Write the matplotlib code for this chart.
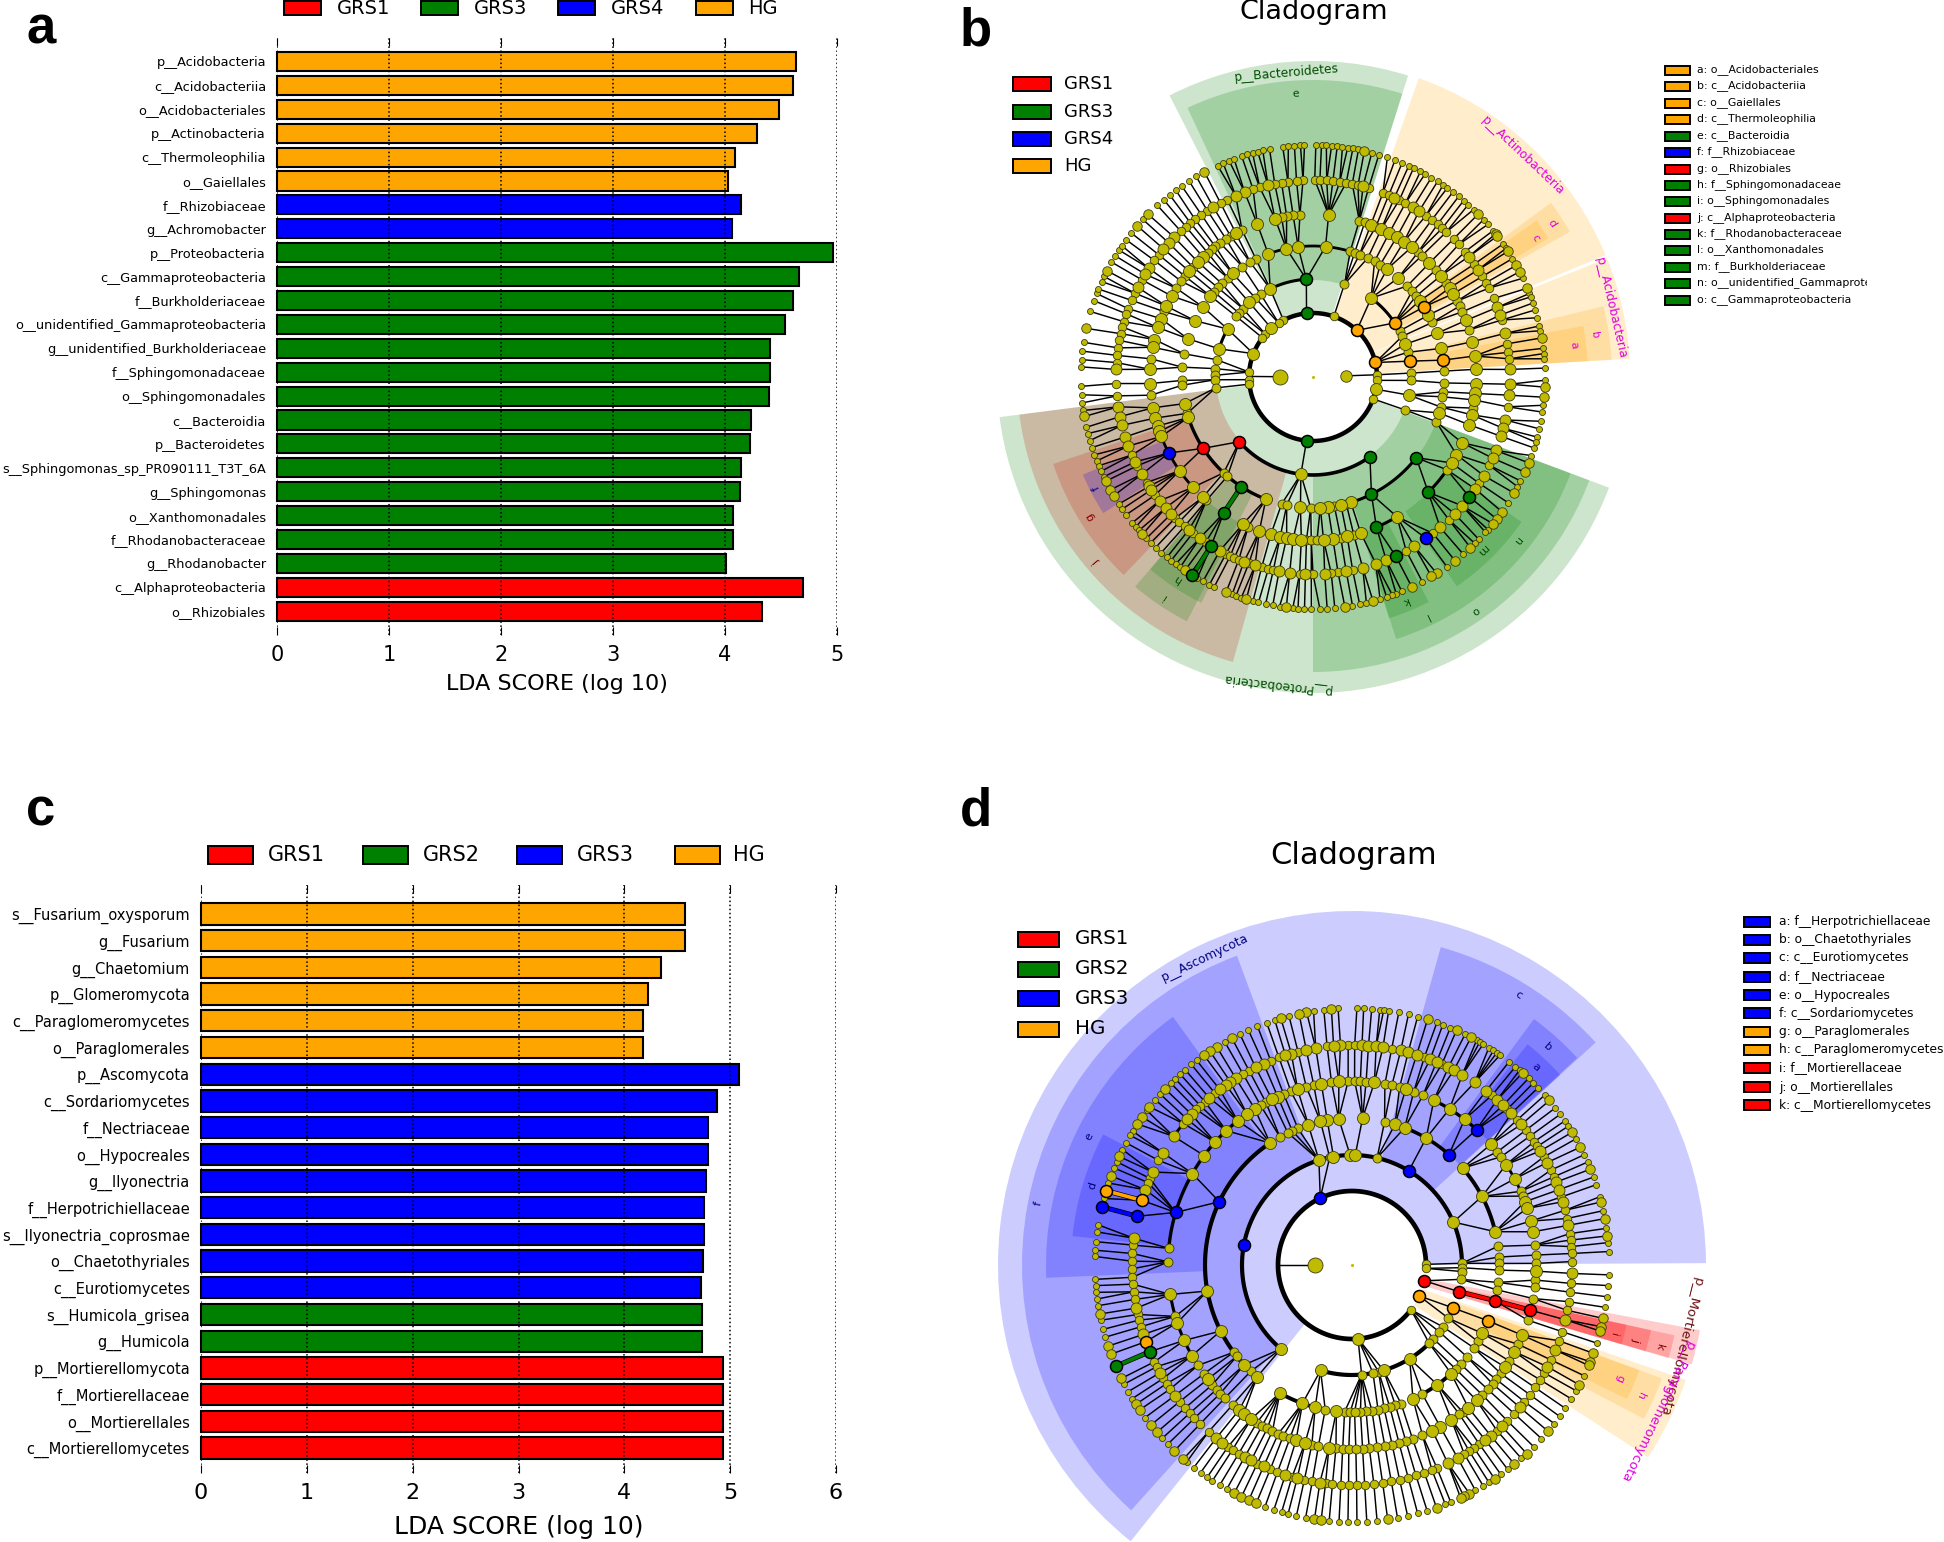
import numpy as np
import matplotlib
matplotlib.use("Agg")
import matplotlib.pyplot as plt
from matplotlib.patches import Rectangle, Wedge
from matplotlib.transforms import Bbox

W, H = 1944, 1542
COL = dict(R="#ff0000", G="#008000", B="#0000ff", O="#ffa500", r="#c80f00")
NODE = "#c0bb00"

# ---------- panel a ----------
A_LABELS = ["p__Acidobacteria","c__Acidobacteriia","o__Acidobacteriales","p__Actinobacteria","c__Thermoleophilia","o__Gaiellales",
 "f__Rhizobiaceae","g__Achromobacter","p__Proteobacteria","c__Gammaproteobacteria","f__Burkholderiaceae",
 "o__unidentified_Gammaproteobacteria","g__unidentified_Burkholderiaceae","f__Sphingomonadaceae","o__Sphingomonadales",
 "c__Bacteroidia","p__Bacteroidetes","s__Sphingomonas_sp_PR090111_T3T_6A","g__Sphingomonas","o__Xanthomonadales",
 "f__Rhodanobacteraceae","g__Rhodanobacter","c__Alphaproteobacteria","o__Rhizobiales"]
A_VALUES = [4.63,4.61,4.48,4.29,4.09,4.03,4.14,4.06,4.96,4.66,4.61,4.54,4.40,4.40,4.39,4.23,4.22,4.14,4.13,4.07,4.07,4.01,4.70,4.33]
A_GROUPS = list("OOOOOOBBGGGGGGGGGGGGGGRR")
A_LEGEND = [("GRS1","R"),("GRS3","G"),("GRS4","B"),("HG","O")]

# ---------- panel c ----------
C_LABELS = ["s__Fusarium_oxysporum","g__Fusarium","g__Chaetomium","p__Glomeromycota","c__Paraglomeromycetes","o__Paraglomerales",
 "p__Ascomycota","c__Sordariomycetes","f__Nectriaceae","o__Hypocreales","g__Ilyonectria","f__Herpotrichiellaceae",
 "s__Ilyonectria_coprosmae","o__Chaetothyriales","c__Eurotiomycetes","s__Humicola_grisea","g__Humicola",
 "p__Mortierellomycota","f__Mortierellaceae","o__Mortierellales","c__Mortierellomycetes"]
C_VALUES = [4.57,4.57,4.35,4.22,4.18,4.18,5.08,4.88,4.79,4.79,4.77,4.75,4.75,4.74,4.72,4.73,4.73,4.93,4.93,4.93,4.93]
C_GROUPS = list("OOOOOOBBBBBBBBBGGRRRR")
C_LEGEND = [("GRS1","R"),("GRS2","G"),("GRS3","B"),("HG","O")]

# ---------- panel b cladogram ----------
B_RADII = [33,64,98,131,163,197,232]
B_R0 = [2]
B_R0_BIG = [179.5]
B_R1 = [71,2,357,340,117.5,122.5,138,142.2,175.6,182.4,186.4]
B_R1_BIG = [349,130.5,158.6]
B_R2 = [71.3,28,24.5,14.6,2.3,122.3,126.1,135.7,139.2,141.7,169.8,175.1,179,181.6,186.4,358,340.3]
B_R2_BIG = [53.6,19.6,115.9,130.5,150.7,163.3,349.3,262.9]
B_R3 = [73.5,71.5,69.2,65.3,62,59.1,44,40.9,38.1,24.6,2.6,115.8,118.7,122.6,130.7,134.3,136.8,139.3,169.8,175.7,181.5,183.6,196.1,227,229.2,256.1,258.4,269,346.8,340.1,284.7,279.4,357.4,353.5,351.3]
B_R3_BIG = [84.5,55.5,49.3,35.5,28.2,19.4,12.6,96.5,101.7,110,127.8,141.7,147.5,154.5,163,191.7,198,248.9,264.5,344.1,286.8,282.3,276.5,273.2]
B_R4 = [73.5,71.5,67.3,49.9,48.1,41.1,35.3,27.8,25.8,23.6,16.8,94.6,97,99.3,101.1,115.8,120.3,122.2,124.7,126.8,128.4,130.3,137.5,141.8,144,147,156.3,173.6,186.4,229.2,246.6,267.7,269.4,349,325.3,284.5,279.8,271.4]
B_R4_BIG = [84.5,69.2,65.2,62.1,59.1,56.1,52.8,44.4,38.4,33.1,30.7,20.3,12.5,7.4,2.7,103.5,110,118.2,132.5,135,139.5,150.2,154.2,159,162.3,166.7,169.5,177.3,182.3,190.9,194.6,197.5,199.5,201.4,215.1,222.6,227.5,244.5,250.8,255,258.4,260.7,263,265.9,357.7,354.2,351.9,346.6,343,336.2,331.6,328.2,301,287,282.1,277,273.7]
B_R5 = [89.5,88,86,84.2,82.2,80.3,78.5,76.8,73.6,69.2,67.4,64,62,55,52.9,50.8,49,47.4,44.5,42.3,39.5,35,30.7,28.6,26.8,23.5,16.8,9.7,7.2,5.3,92.9,94.8,97.3,99.2,101.2,105.7,107.7,115.8,118,122.4,124.5,126.8,128.5,130.2,132.2,141.6,143.7,150.4,154.8,157.1,159.7,161.3,163.7,165.3,167.3,169.3,171.5,173.7,175.8,181.9,185.5,203.3,206.8,212.4,216.8,225.7,227.3,229.3,232.4,237,243.8,245.2,246.5,247.9,251,254.9,256.9,258.4,266.1,269.5,351.3,333.4,327.4,313.6,307.5,298.2,281.6,277.3,275.3,270]
B_R5_BIG = [75.3,65.6,59.5,57.4,37.7,33,20.7,18.3,12.8,2.2,103.2,110.3,113.1,120.4,134.8,137.1,139.4,146.5,148.5,152.9,177.8,188.7,191.6,194.2,197.7,200.5,205.5,209.6,213.7,214.9,218.9,221.6,224,230.9,234.9,241.8,249.5,252.9,260.1,263.2,267.8,357.9,354.7,347.4,344.9,342.5,338.1,335.7,330,325.4,319.2,316,310.2,300.9,291.8,288.6,284.6,279.7,273.4]
B_R6 = [89.3,87.9,86.7,85.4,84,82.7,81.4,80.1,78.7,75.3,73.5,71.3,69.3,67.4,65.6,64.3,62.4,61.1,59.3,57.5,55.9,54.6,52.9,51.1,49.5,48,46.2,42.7,41.1,39.1,35,33.7,30.7,25.2,21.1,20.2,18.6,16.8,14.8,12.7,11.5,7.1,5.8,4.5,2.2,
 177.5,175.7,173.6,171.4,163.6,160.8,158.9,157.7,155.7,154.3,150.3,148.5,146.8,145.5,143.7,141.6,137.2,132.2,130.1,128.2,126.3,124.5,122.3,120.2,114.3,112.8,111.2,109.9,107.9,106.4,105.1,103.8,102.5,100.8,97.5,96.1,94.6,93.1,92.1,
 182.3,184.4,186.4,188.3,192.5,194.1,195.9,197.7,199.6,201.2,202.5,204,205.5,213.2,214.7,216.4,218.9,220.2,221.4,224.1,225.6,227.3,229.2,231,232.3,233.7,235.1,238,240.1,241.7,243.5,244.8,249.6,250.6,252,255,256.4,258.2,260,261.7,265,266.3,267.9,269.6,
 359.2,353,351.3,349,347.1,345,343.7,342.2,340.2,333.4,331.8,327.2,318.9,318,315.6,314.2,310.3,305.2,298.1,292.5,291,290,288.5,286.8,283.3,281.6,279.8,275.4,273.5,271.7]
B_R6_BIG = [77.2,44.6,38.1,37.4,32.8,28.8,27,22.5,9.7,167.9,152.7,139.3,135.4,117.9,189.8,206.7,209.1,210.8,222.7,236.5,248,253.3,263.4,357.5,355,338.3,335.8,330,324.5,322.3,320.8,312.7,307.7,302.2,300.7,295.2,285,277.9]
B_COLORED = [(1,95.8,"G"),(1,46.8,"O"),(1,13.1,"O"),(1,264.2,"G"),
 (2,93.9,"G"),(2,33.5,"O"),(2,9.3,"O"),(2,221.3,"R"),(2,305.5,"G"),
 (3,32.3,"O"),(3,7.4,"O"),(3,213,"R"),(3,236.8,"G"),(3,322,"G"),(3,296.5,"G"),
 (4,207.8,"B"),(4,236.7,"G"),(4,315,"G"),(4,292.9,"G"),
 (5,238.9,"G"),(5,322.5,"G"),(5,305,"B"),(5,294.8,"G"),(6,238.7,"G")]
B_ARCS = [(1,0,360,3.2),(2,221.3,305.5,2.6),(2,94,116,2.2),(2,33.5,53.6,2.2),(2,150.7,163.3,2.2),
 (3,73.5,110,2.0),(3,198,248.9,2.4),(3,286.8,322,2.2),(4,201.4,222.6,2.0),(4,315,325.3,2.2),(4,292.9,301,2.2)]
B_THICK = [(3,236.8,4,236.7,"G"),(5,238.9,6,238.7,"G")]
# centre angle start, end, outer radius, inner radius, colour
B_WEDGES = [(187.3,339.5,316,65,"G"),(72.5,117,316,65,"G"),(22.6,70.5,317,65,"O"),(3.3,22,317,65,"O"),
 (72.5,115,297,97,"G"),(187.3,254.3,296,97,"r"),(270,339.5,295,97,"G"),(3.3,13.7,299,97,"O"),(29.5,36.2,295,97,"O"),
 (3.3,10.7,275,131,"O"),(30.5,35,273,131,"O"),(198.5,226.3,274,131,"r"),(229.7,242.7,275,131,"G"),(287.6,304,275,131,"G"),(304,339.5,275,131,"G"),
 (203,213,250,163,"B"),(229.8,243.7,252,163,"G"),(287.5,297.2,253,163,"G"),(304.5,325.2,254,163,"G")]
B_TEXT = [("p__Bacteroidetes",94.9,305,"#004d00",8.8),("p__Actinobacteria",46.6,305,"#e000e0",8.8),("p__Acidobacteria",13,306,"#e000e0",8.8),
 ("p__Proteobacteria",263.3,309,"#004d00",8.8),("e",93.6,284,"#004d00",8),("a",7,263,"#e000e0",8),("b",8.5,285,"#e000e0",8),("c",32,263,"#e000e0",8),("d",32.8,284,"#e000e0",8),
 ("f",207,243,"#000088",8),("g",212,263,"#880000",8),("j",220.4,285,"#880000",8),("h",236,243,"#004d00",8),("i",235.8,265,"#004d00",8),
 ("k",292.3,242,"#004d00",8),("l",295.5,265,"#004d00",8),("m",314.3,242,"#004d00",8),("n",321.3,262,"#004d00",8),("o",304.8,284,"#004d00",8)]
B_LEFT = [("GRS1","R"),("GRS3","G"),("GRS4","B"),("HG","O")]
B_RIGHT = [("a: o__Acidobacteriales","O"),("b: c__Acidobacteriia","O"),("c: o__Gaiellales","O"),("d: c__Thermoleophilia","O"),("e: c__Bacteroidia","G"),
 ("f: f__Rhizobiaceae","B"),("g: o__Rhizobiales","R"),("h: f__Sphingomonadaceae","G"),("i: o__Sphingomonadales","G"),("j: c__Alphaproteobacteria","R"),
 ("k: f__Rhodanobacteraceae","G"),("l: o__Xanthomonadales","G"),("m: f__Burkholderiaceae","G"),("n: o__unidentified_Gammaproteobacteria","G"),("o: c__Gammaproteobacteria","G")]

# ---------- panel d cladogram ----------
D_RADII = [37,74,110,147,184,220,257]
D_R0 = []
D_R0_BIG = [180]
D_R1 = [0.5,357.4,322.8]
D_R1_BIG = [274.7]
D_R2 = [101.7,76.8,0.9,358.6,356.6,352.5,325.8,322.6,317.8,314.6,331.1,284,281,275]
D_R2_BIG = [107.5,99.7,91,88.3,23,229.7,253.4,301.6,286.7]
D_R3 = [111.6,114,115.9,119.4,77.2,3.1,0.6,7.3,216.4,218.4,226.4,259.5,267.1,269.3,358,353.2,350.3,328.7,325.8,321.4,317.6,314.9,298.6,289.5,287.2,284.9,282.6,280.2,277.8,275.5,273.3,271]
D_R3_BIG = [95.2,99.7,102.4,107.3,123.9,85.9,73,69,59.7,41.2,27.8,13.1,190.2,206.7,222.8,229.7,240.6,250.3,255.5,263.9,312.4,305.5,294.5,332.3]
D_R4 = [91.2,96.4,102,104.4,109.4,111.8,117.9,119.8,174.8,179,89.2,87.4,85.6,79.7,77.5,75,70.4,67.3,37.9,36,23.6,22,6.2,3.1,0.5,196.2,213.1,216.3,220.6,222.6,224.3,226.3,229.5,238.9,240.8,242.6,244.4,246.4,248.1,250.3,257.4,259.5,265,267.1,269,355.3,353,349.5,342.6,334.5,328.6,323.9,321.6,319.8,317.5,315.1,307,305.7,292.5,289.2,287,284.8,282.6,280.3,277.9,275.4,273.3,271.2]
D_R4_BIG = [94.1,99.6,107.2,113.8,115.8,121.9,124.8,128.4,133.1,138.1,143.5,150.2,83,73,63.6,58,52.3,41,33.1,27.9,20.1,17.9,13.8,10.4,189.2,198.3,204.2,209.5,218.4,232.1,233.9,236.8,252.3,255.2,262.8,358.1,337.6,331.9,326.3,312.6,309.2,302.7,298.6,295.9]
D_R5 = [91,96.5,104.2,109.4,111.7,117.9,119.7,128.6,132,133.6,135,140,151.6,156.8,158,174.8,177,179,89.3,79.6,70.8,65.9,50.5,45.1,41.3,37.8,35.9,34.1,32.6,29.4,25.5,23.6,18,14.4,12.2,8.2,6.5,4.8,3,0.9,181,183.2,185,187,189,193,194.5,196.3,206.1,207.5,211,212.6,214.3,218.4,220.6,222.4,224.2,226.3,229.3,235.7,237.1,239,244.5,248.2,250.2,254.2,257.5,259.6,263.1,264.9,267.1,269.1,355.2,352.9,350.4,348.1,342.4,339.9,334.5,330.7,328.6,326.2,323.9,321.6,317.5,314.9,311.2,305.4,303.7,302.2,300.7,292.7,291.3,289.2,286.9,284.8,282.5,280.3,278,275.7,273.3,271.2]
D_R5_BIG = [93,94.8,99.5,102,106,107.6,113.7,116,121.9,123.6,125,127,130.5,136.8,138.5,144.2,149.3,155,160,173,87.4,85.7,83.7,81.9,77.2,75.2,72.9,69.2,67.4,64,62.4,59.9,56.1,52.4,48.7,46.6,43.6,39.7,31.2,27.7,22.1,20,16.7,10.4,191.3,198.4,209.3,216.4,231.9,233.8,240.8,242.7,246.3,252.4,255.6,261.6,357.8,345.6,337.3,332.5,319.7,312.9,309.1,307.3,298.7,295.8]
D_R6 = [93.1,96.3,98.6,104.2,107.5,109.4,111.6,113.8,115.9,119.7,127.2,128.7,130.5,132,133.5,134.9,138.3,140,143,148.6,149.7,151.6,153.3,156.3,157.8,161.4,165,171,172.6,174.8,176.7,178.1,
 88.9,87.4,85.6,83.8,82.9,81.8,79.5,77.3,75.2,70.7,69.3,67.5,63.9,61,60.2,59.3,57.8,56.6,55.7,54.8,52.3,50.5,49.3,46.6,45.1,43.6,41.4,37.7,35.9,34.1,32.7,29.4,25.4,23.6,20,18.2,15.4,12.2,8.2,5,3,
 183.2,184.6,186.1,187.6,189.1,192.4,194.5,196.3,207.6,209.5,211.3,216.4,222.4,224.2,230,232,233.9,235.7,237.1,239,240.8,250.2,252.3,254.1,255.6,257.5,259.6,264.9,267.1,269.1,
 357.8,355.4,352.9,350.5,342.3,334.5,330.7,328.6,326.1,323.9,321.9,317.5,315,311.2,307.3,305.4,302.2,300.7,298.7,292.6,291.3,287,284.8,282.5,280.2,275.6,273.3,271.1]
D_R6_BIG = [94.6,100.2,101.9,106.1,117.9,121.8,123.6,125.2,136.7,142,144.8,146.7,155,159.7,72.9,66,62.4,48.4,39.8,31.1,27.3,21.9,14.2,10.4,6.5,191,198.4,200.3,206.2,212.8,214.3,218.5,220.6,226.3,229,242.7,244.5,246.3,248.1,261.6,263.1,348,346.1,345.1,339.9,337.9,337,332.2,319.7,312.8,309.2,303.7,297.2,295.8,295,289.2,278]
D_COLORED = [(1,115.4,"B"),(1,347.7,"R"),(1,335.3,"O"),(2,169.5,"B"),(2,58.9,"B"),(2,346,"R"),(2,337,"O"),
 (3,154.5,"B"),(3,48.7,"B"),(3,346,"R"),(3,337.7,"O"),(4,163.4,"B"),(4,47.4,"B"),(4,345.8,"R"),
 (5,162.9,"O"),(5,167.2,"B"),(5,200.4,"O"),(5,203.2,"G"),(6,163.2,"O"),(6,166.9,"B"),(6,203.2,"G")]
D_ARCS = [(1,0.5,322.8,3.4),(2,0.9,229.7,3.0),(2,253.4,314.6,3.0),(3,123.9,222.8,3.0),(3,48.7,69,2.6),(3,13.1,41.2,2.8),(3,240.6,255.5,2.8),(3,298.6,312.4,2.8),
 (4,128.4,175,2.4),(4,189.2,209.5,2.2),(4,47.4,63.6,2.4),(4,23.6,33.1,2.0),(5,140,144.2,2)]
D_THICK = [(5,162.9,6,163.2,"O"),(5,167.2,6,166.9,"B"),(5,203.2,6,203.2,"G"),(3,346,4,345.8,"R"),(2,346,3,346,"R")]
D_WEDGES = [(0.3,231.3,354,74,"B"),(343.7,349.4,354,74,"R"),(327,341,353,74,"O"),
 (42.4,74.4,330,110,"B"),(110.4,228,330,110,"B"),(343.6,347.7,330,110,"R"),(332.2,339.9,330,110,"O"),
 (42.6,53.5,306,147,"B"),(125.8,182.4,306,147,"B"),(343.6,347.7,306,147,"R"),(334,339.9,306,147,"O"),
 (42.4,51.5,282,184,"B"),(152.3,174.1,281,184,"B"),(343.6,347.7,281,184,"R")]
D_TEXT = [("p__Ascomycota",115.5,341,"#000080",8.8),("p__Mortierellomycota",346,339,"#6b1010",9.5),("p__Paraglomeromycota",334.2,338,"#e000e0",9.5),
 ("c",58.3,317,"#000080",8),("b",48,293,"#000080",8),("a",47,270,"#000080",8),("e",154,292,"#000080",8),("d",163,271,"#000080",8),("f",169,320,"#000080",8),
 ("k",345,318,"#7a0000",8),("j",345.3,293,"#7a0000",8),("i",345.2,270,"#7a0000",8),("g",337,291,"#e000e0",8),("h",335.6,317,"#e000e0",8)]
D_LEFT = [("GRS1","R"),("GRS2","G"),("GRS3","B"),("HG","O")]
D_RIGHT = [("a: f__Herpotrichiellaceae","B"),("b: o__Chaetothyriales","B"),("c: c__Eurotiomycetes","B"),("d: f__Nectriaceae","B"),("e: o__Hypocreales","B"),
 ("f: c__Sordariomycetes","B"),("g: o__Paraglomerales","O"),("h: c__Paraglomeromycetes","O"),("i: f__Mortierellaceae","R"),("j: o__Mortierellales","R"),("k: c__Mortierellomycetes","R")]

B_NODES = [(B_R0,B_R0_BIG),(B_R1,B_R1_BIG),(B_R2,B_R2_BIG),(B_R3,B_R3_BIG),(B_R4,B_R4_BIG),(B_R5,B_R5_BIG),(B_R6,B_R6_BIG)]
D_NODES = [(D_R0,D_R0_BIG),(D_R1,D_R1_BIG),(D_R2,D_R2_BIG),(D_R3,D_R3_BIG),(D_R4,D_R4_BIG),(D_R5,D_R5_BIG),(D_R6,D_R6_BIG)]

fig = plt.figure(figsize=(W/100, H/100), dpi=100)
ov = fig.add_axes([0, 0, 1, 1]); ov.set_xlim(0, W); ov.set_ylim(H, 0); ov.axis("off")

def px_axes(l, t, r, b):
    return fig.add_axes([l/W, 1-b/H, (r-l)/W, (b-t)/H])

def legend_row(items, xs_patch, xs_text, ys, pw, ph, fs, clip=None):
    for (lab, c), xp, xt, y in zip(items, xs_patch, xs_text, ys):
        ov.add_patch(Rectangle((xp, y-ph/2), pw, ph, fc=COL[c], ec="black", lw=1.4, zorder=5))
        t = ov.text(xt, y, lab, fontsize=fs, va="center", ha="left", zorder=5)
        if clip:
            t.set_clip_box(Bbox([[0, 0], [clip, H]])); t.set_clip_on(True)

def bars(rect, labels, vals, groups, xmax, first, step, fs_y, fs_t, fs_x, lab_pad):
    l, t, r, b = rect
    ax = px_axes(l, t, r, b)
    y = np.arange(len(vals))
    ax.barh(y, vals, height=0.8, color=[COL[g] for g in groups], edgecolor="black", linewidth=1.5, zorder=2, clip_on=False)
    ax.set_xlim(0, xmax)
    ax.set_ylim((b-first)/step, (t-first)/step)
    ax.set_xticks(range(xmax+1))
    ax.set_yticks(y); ax.set_yticklabels(labels, fontsize=fs_y)
    ax.xaxis.grid(True, linestyle=":", color="black", linewidth=1.1, zorder=3)
    ax.set_axisbelow(False)
    ax.tick_params(axis="y", length=0, pad=8)
    ax.tick_params(axis="x", top=True, bottom=True, direction="in", length=6, width=0.8, labelsize=fs_t, pad=7)
    for s in ax.spines.values():
        s.set_visible(False)
    ax.set_xlabel("LDA SCORE (log 10)", fontsize=fs_x, labelpad=lab_pad)

bars((277, 38, 837, 635), A_LABELS, A_VALUES, A_GROUPS, 5, 61.5, 23.9, 9.3, 15, 16, 7)
bars((201, 885, 836, 1473), C_LABELS, C_VALUES, C_GROUPS, 6, 914, 26.7, 10.5, 16, 18, 9)

legend_row(A_LEGEND, [284,421,558,696], [337,474,611,748], [8]*4, 37, 14, 14)
legend_row(C_LEGEND, [208,363,517,675], [268,423,577,733], [855]*4, 45, 18, 15)

def cladogram(cx, cy, radii, nodes, colored, arcs, thick, wedges, texts):
    S = 372
    ax = px_axes(cx-S, cy-S, cx+S, cy+S)
    ax.set_xlim(-S, S); ax.set_ylim(-S, S); ax.axis("off"); ax.patch.set_alpha(0)
    P = lambda k, a: (radii[k]*np.cos(np.radians(a)), radii[k]*np.sin(np.radians(a)))
    for a1, a2, ro, ri, c in wedges:
        ax.add_patch(Wedge((0, 0), ro, a1, a2, width=ro-ri, fc=COL[c], ec="none", alpha=0.2, zorder=1, clip_on=False))
    allang = [list(s)+list(b)+[a for k2, a, _ in colored if k2 == k] for k, (s, b) in enumerate(nodes)]
    limit = {2: 14, 3: 10, 4: 10, 5: 8, 6: 8}
    for k in range(2, 7):
        par = np.array(allang[k-1])
        for a in allang[k]:
            d = np.abs((par-a+180) % 360-180)
            if d.min() <= limit[k]:
                x0, y0 = P(k-1, par[d.argmin()]); x1, y1 = P(k, a)
                ax.plot([x0, x1], [y0, y1], color="black", lw=1.05, zorder=2, solid_capstyle="round")
    for a in allang[0]:
        x0, y0 = P(0, a); x1, y1 = P(1, a)
        ax.plot([x0, x1], [y0, y1], color="black", lw=1.05, zorder=2)
    for k, a1, a2, lw in arcs:
        th = np.radians(np.arange(a1, a2+0.5, 0.5))
        ax.plot(radii[k]*np.cos(th), radii[k]*np.sin(th), color="black", lw=lw, zorder=3, solid_capstyle="butt")
    for k1, a1, k2, a2, c in thick:
        x0, y0 = P(k1, a1); x1, y1 = P(k2, a2)
        ax.plot([x0, x1], [y0, y1], color="black", lw=3.6, zorder=3)
        ax.plot([x0, x1], [y0, y1], color=COL[c], lw=2.6, zorder=3)
    small_px = [11.5, 8.5, 9, 9, 9, 8.5, 6]
    big_px = [15, 12, 12, 12, 12, 11, 9.5]
    for k in range(6, -1, -1):
        s, b = nodes[k]
        for arr, dia, z in ((s, small_px[k], 4), (b, big_px[k], 4.2)):
            if len(arr):
                x, y = P(k, np.array(arr))
                ax.scatter(x, y, s=(dia*0.72)**2, c=NODE, edgecolors="#3a3a10", linewidths=0.6, zorder=z, clip_on=False)
    for k, a, c in colored:
        x, y = P(k, a)
        ax.scatter([x], [y], s=(12*0.72)**2, c=COL[c], edgecolors="black", linewidths=1.1, zorder=5, clip_on=False)
    ax.scatter([0], [0], s=1.5, c=NODE, zorder=5)
    for s, a, r, c, fs in texts:
        x, y = r*np.cos(np.radians(a)), r*np.sin(np.radians(a))
        ax.text(x, y, s, color=c, fontsize=fs, rotation=a-90, rotation_mode="anchor", ha="center", va="center", zorder=6, clip_on=False)

cladogram(1313, 377, B_RADII, B_NODES, B_COLORED, B_ARCS, B_THICK, B_WEDGES, B_TEXT)
cladogram(1352, 1265, D_RADII, D_NODES, D_COLORED, D_ARCS, D_THICK, D_WEDGES, D_TEXT)

legend_row(B_LEFT, [1013]*4, [1064]*4, [84,112,139,166], 38, 14, 13)
yb = [70,86,103,119,136,152,169,185,201,218,234,250,267,283,300]
legend_row(B_RIGHT, [1665]*15, [1697]*15, yb, 25, 9, 7.8, clip=1867)
legend_row(D_LEFT, [1018]*4, [1075]*4, [939,969,998,1029], 41, 15, 14.3)
yd = [921.5,940,958,977,995,1013,1032,1050,1068,1087,1105]
legend_row(D_RIGHT, [1744]*11, [1779]*11, yd, 26, 10, 8.8)

ov.text(1314, 12, "Cladogram", fontsize=19.5, ha="center", va="center")
ov.text(1354, 856, "Cladogram", fontsize=22, ha="center", va="center")
for s, x, y in [("a",41,29),("b",976,31),("c",41,812),("d",976,812)]:
    ov.text(x, y, s, family="Liberation Sans", weight="bold", fontsize=38, ha="center", va="center", zorder=7)
ov.set_zorder(10); ov.patch.set_alpha(0)

fig.savefig("out.png", dpi=100)
